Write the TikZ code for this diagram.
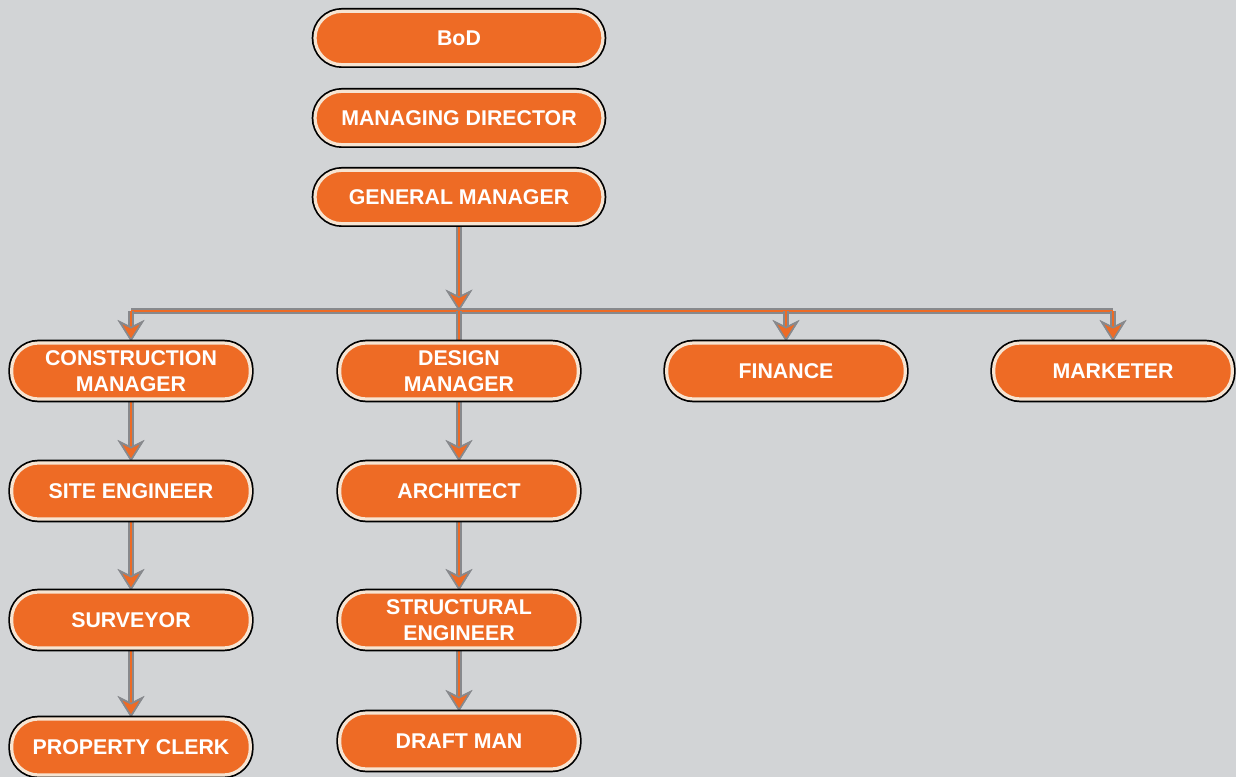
\documentclass[tikz,border=0pt]{standalone}
\usepackage{fontspec}
\setmainfont{Liberation Sans}
\usetikzlibrary{arrows.meta,backgrounds}
\definecolor{boxorange}{RGB}{238,107,37}
\definecolor{boxrim}{RGB}{246,228,210}
\definecolor{linegray}{RGB}{135,137,141}
\definecolor{paper}{RGB}{210,212,214}
\tikzset{
  box/.style={fill=boxorange, draw=boxrim, line width=2.4pt,
    preaction={draw=black, line width=5pt}, rounded corners=20pt,
    minimum height=40pt, text=white, align=center,
    font=\fontsize{16}{19}\selectfont\bfseries},
  topbox/.style={box, minimum width=216pt},
  subbox/.style={box, minimum width=179pt, minimum height=42pt},
  link/.style={draw=boxorange, line width=1.8pt,
    preaction={draw=linegray, line width=4.2pt}},
  tip/.style={-{Stealth[length=16pt, width=20pt, inset=5pt, line width=1.2pt,
    color=linegray, fill=boxorange]}},
}
\begin{document}
\begin{tikzpicture}[x=0.75pt,y=0.75pt,yscale=-1,xscale=1]
\useasboundingbox (0,0) rectangle (1236,777);
% top of the chart
\node[topbox] (bod) at (459,38) {BoD};
\node[topbox] (md) at (459,118) {MANAGING DIRECTOR};
\node[topbox] (gm) at (459,197) {GENERAL MANAGER};
% departments
\node[subbox] (cm) at (131,371) {CONSTRUCTION\\MANAGER};
\node[subbox] (dm) at (459,371) {DESIGN\\MANAGER};
\node[subbox] (fin) at (786,371) {FINANCE};
\node[subbox] (mkt) at (1113,371) {MARKETER};
% construction side
\node[subbox] (se) at (131,491) {SITE ENGINEER};
\node[subbox] (sur) at (131,620) {SURVEYOR};
\node[subbox] (pc) at (131,747) {PROPERTY CLERK};
% design side
\node[subbox] (arch) at (459,491) {ARCHITECT};
\node[subbox] (str) at (459,620) {STRUCTURAL\\ENGINEER};
\node[subbox] (dft) at (459,741) {DRAFT MAN};
\coordinate (bus) at (459,311);
\coordinate (busL) at (cm.north |- bus);
\coordinate (busR) at (mkt.north |- bus);
\begin{scope}[on background layer]
\fill[paper] (0,0) rectangle (1236,777);
\draw[link] (busL) -- (busR);
\draw[link] (bus) -- (dm.north);
\draw[link, tip] (gm.south) -- (bus);
\draw[link, tip] (busL) -- (cm.north);
\draw[link, tip] (busR) -- (mkt.north);
\draw[link, tip] (fin.north |- bus) -- (fin.north);
\foreach \a/\b in {cm/se, se/sur, sur/pc, dm/arch, arch/str, str/dft}
  \draw[link, tip] (\a.south) -- (\b.north);
\end{scope}
\end{tikzpicture}
\end{document}
